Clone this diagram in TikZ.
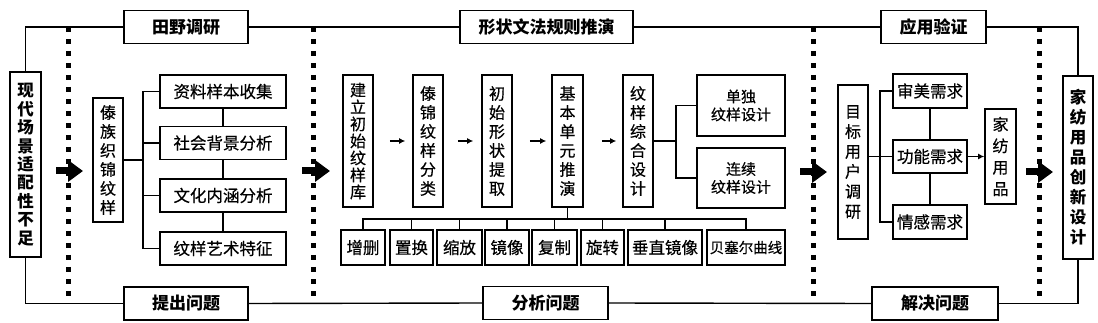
\documentclass[tikz,border=0pt]{standalone}
\usepackage{fontspec}
\setmainfont{Noto Sans CJK SC}
\newfontfamily\boxfont{Noto Sans CJK SC}[FakeBold=0.5]
\usetikzlibrary{arrows.meta}

\tikzset{
  box/.style={draw, line width=1.6pt, fill=white, inner sep=0pt, align=center,
    font=\boxfont\fontsize{16.5}{19}\selectfont},
  vbox/.style={box, font=\boxfont\fontsize{16}{19}\selectfont},
  mainbox/.style={box, font=\bfseries\fontsize{16.5}{18.4}\selectfont},
  titlebox/.style={box, font=\bfseries\fontsize{17}{20}\selectfont,
    minimum height=33pt},
  link/.style={line width=1.4pt},
  dots/.style={line width=5pt, dash pattern=on 5pt off 7pt},
  bigarrow/.style={line width=7pt, -{Triangle[length=15pt,width=21pt]}},
  smallarrow/.style={line width=1.6pt, -{Latex[length=6pt,width=6pt]}}
}

\begin{document}
\begin{tikzpicture}[x=1pt,y=-1pt]
  \useasboundingbox (0,0) rectangle (1098,323);
  % dotted dividers
  \foreach \x in {68,313,813,1039}
    \draw[dots] (\x,27) -- (\x,303);
  % start and end
  \node[mainbox, minimum width=31pt, minimum height=185pt] (ctx) at (25.5,164.5)
    {现\\代\\场\\景\\适\\配\\性\\不\\足};
  \node[mainbox, minimum width=30pt, minimum height=183pt, font=\bfseries\fontsize{16.5}{20}\selectfont] (goal) at (1078,167.5)
    {家\\纺\\用\\品\\创\\新\\设\\计};
  % stage titles
  \node[titlebox, minimum width=124pt] (t1) at (186,27) {田野调研};
  \node[titlebox, minimum width=173pt] (t2) at (546.5,27) {形状文法规则推演};
  \node[titlebox, minimum width=105pt] (t3) at (933.5,27) {应用验证};
  \node[titlebox, minimum width=124pt] (b1) at (186,303.5) {提出问题};
  \node[titlebox, minimum width=125pt] (b2) at (545.5,303) {分析问题};
  \node[titlebox, minimum width=126pt] (b3) at (935,303.5) {解决问题};
  \draw[link] (ctx.north) |- (t1.west);
  \draw[link] (t1.east) -- (t2.west);
  \draw[link] (t2.east) -- (t3.west);
  \draw[link] (t3.east) -| (goal.north);
  \draw[link] (ctx.south) |- (b1.west);
  \draw[link] (b1.east) -- (b2.west);
  \draw[link] (b2.east) -- (b3.west);
  \draw[link] (b3.east) -| (goal.south);
  % big arrows
  \coordinate (g1a) at (56,171);  \coordinate (g1b) at (83,171);
  \coordinate (g2a) at (302,171); \coordinate (g2b) at (330,171);
  \coordinate (g3a) at (800,172); \coordinate (g3b) at (827,172);
  \coordinate (g4a) at (1026,172); \coordinate (g4b) at (1053,172);
  \foreach \i in {1,...,4}
    \draw[bigarrow] (g\i a) -- (g\i b);

  % field research
  \node[vbox, minimum width=30pt, minimum height=124pt] (dai) at (108,160)
    {傣\\族\\织\\锦\\纹\\样};
  \node[box, minimum width=126pt, minimum height=33pt] (f1) at (223,91.5) {资料样本收集};
  \node[box, minimum width=126pt, minimum height=33pt] (f2) at (223,143) {社会背景分析};
  \node[box, minimum width=126pt, minimum height=33pt] (f3) at (223,195.5) {文化内涵分析};
  \node[box, minimum width=126pt, minimum height=33pt] (f4) at (223,248.5) {纹样艺术特征};
  \coordinate (br1) at (143,160);
  \draw[link] (dai) -- (br1);
  \foreach \i in {1,...,4}
    \draw[link] (br1) |- (f\i.west);
  \draw[link] (f1) -- (f2);
  \draw[link] (f2) -- (f3);
  \draw[link] (f3) -- (f4);

  % shape grammar
  \node[vbox, minimum width=30pt, minimum height=132pt, font=\boxfont\fontsize{16}{17}\selectfont] (s1) at (358,141)
    {建\\立\\初\\始\\纹\\样\\库};
  \node[vbox, minimum width=30pt, minimum height=132pt] (s2) at (428,141) {傣\\锦\\纹\\样\\分\\类};
  \node[vbox, minimum width=30pt, minimum height=132pt] (s3) at (497,141) {初\\始\\形\\状\\提\\取};
  \node[vbox, minimum width=31pt, minimum height=132pt] (s4) at (567.5,141) {基\\本\\单\\元\\推\\演};
  \node[vbox, minimum width=30pt, minimum height=132pt] (s5) at (638,141) {纹\\样\\综\\合\\设\\计};
  \draw[smallarrow, shorten <=16pt, shorten >=7pt] (s1) -- (s2);
  \draw[smallarrow, shorten <=14pt, shorten >=8pt] (s2) -- (s3);
  \draw[smallarrow, shorten <=17pt, shorten >=5pt] (s3) -- (s4);
  \draw[smallarrow, shorten <=18pt, shorten >=6pt] (s4) -- (s5);
  \node[box, minimum width=88pt, minimum height=61pt, font=\boxfont\fontsize{15}{18}\selectfont] (p1) at (741,105.5)
    {单独\\纹样设计};
  \node[box, minimum width=88pt, minimum height=60pt, font=\boxfont\fontsize{15}{18}\selectfont] (p2) at (741,178)
    {连续\\纹样设计};
  \coordinate (br2) at (676,141);
  \draw[link] (s5) -- (br2);
  \draw[link] (br2) |- (p1.west);
  \draw[link] (br2) |- (p2.west);
  % rules
  \node[box, minimum width=44pt, minimum height=35pt] (o1) at (363,247.5) {增删};
  \node[box, minimum width=43pt, minimum height=35pt] (o2) at (411.5,247.5) {置换};
  \node[box, minimum width=45pt, minimum height=35pt] (o3) at (459.5,247.5) {缩放};
  \node[box, minimum width=44pt, minimum height=35pt] (o4) at (507,247.5) {镜像};
  \node[box, minimum width=45pt, minimum height=35pt] (o5) at (554.5,247.5) {复制};
  \node[box, minimum width=43pt, minimum height=35pt] (o6) at (602.5,247.5) {旋转};
  \node[box, minimum width=74pt, minimum height=35pt] (o7) at (665,247.5) {垂直镜像};
  \node[box, minimum width=78pt, minimum height=35pt, font=\boxfont\fontsize{14.5}{17}\selectfont] (o8) at (746,247.5)
    {贝塞尔曲线};
  \coordinate (bus) at (567.5,219);
  \draw[link] (s4) -- (bus);
  \foreach \i in {1,...,8}
    \draw[link] (bus) -| (o\i.north);

  % application
  \node[vbox, minimum width=30pt, minimum height=154pt, font=\boxfont\fontsize{16}{20}\selectfont] (usr) at (853,162)
    {目\\标\\用\\户\\调\\研};
  \node[box, minimum width=74pt, minimum height=34pt] (n1) at (930,91) {审美需求};
  \node[box, minimum width=74pt, minimum height=33pt] (n2) at (930,156.5) {功能需求};
  \node[box, minimum width=74pt, minimum height=34pt] (n3) at (930,222) {情感需求};
  \node[vbox, minimum width=31pt, minimum height=95pt, font=\boxfont\fontsize{16}{21.5}\selectfont] (home) at (1000.5,156.5)
    {家\\纺\\用\\品};
  \coordinate (br3) at (880,156.5);
  \draw[link] (usr.east |- br3) -- (n2.west);
  \draw[link] (br3) |- (n1.west);
  \draw[link] (br3) |- (n3.west);
  \draw[link] (n1) -- (n2);
  \draw[link] (n2) -- (n3);
  \draw[smallarrow] (n2) -- (home);
\end{tikzpicture}
\end{document}
